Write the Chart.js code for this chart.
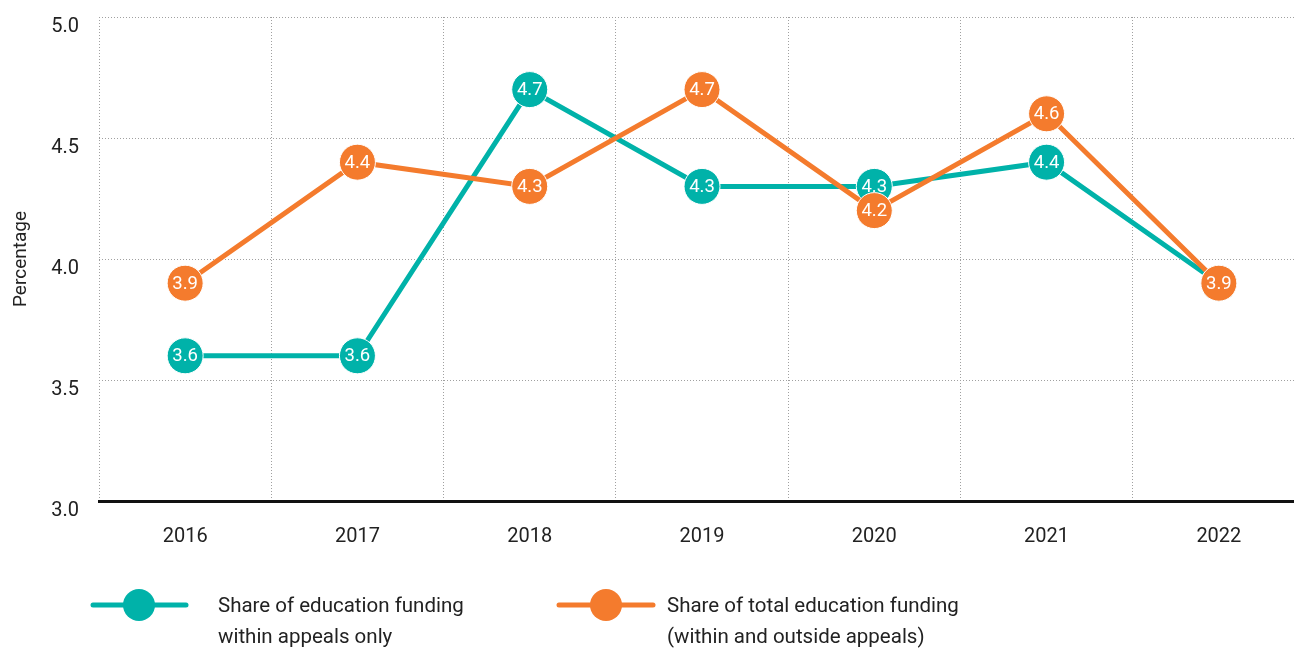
<!DOCTYPE html>
<html>
<head>
<meta charset="utf-8">
<script src="https://cdn.jsdelivr.net/npm/chart.js@4/dist/chart.umd.min.js"></script>
<style>
  html, body { margin: 0; padding: 0; background: #fff; overflow: hidden; }
  #wrap { width: 1305px; height: 650px; }
</style>
</head>
<body>
<div id="wrap"><canvas id="c" width="1305" height="650"></canvas></div>
<script>
const categories = ['2016', '2017', '2018', '2019', '2020', '2021', '2022'];
const withinAppeals = [3.6, 3.6, 4.7, 4.3, 4.3, 4.4, 3.9];
const totalFunding = [3.9, 4.4, 4.3, 4.7, 4.2, 4.6, 3.9];
const seriesNames = [
  ['Share of education funding', 'within appeals only'],
  ['Share of total education funding', '(within and outside appeals)']
];
const yTitle = 'Percentage';

const TEAL = '#00B2A9';
const ORANGE = '#F47B2D';
const FONT = 'Roboto, "DejaVu Sans", sans-serif';

const pointLabels = {
  id: 'pointLabels',
  afterDatasetDraw(chart, args) {
    const ctx = chart.ctx;
    const meta = args.meta;
    const ds = chart.data.datasets[args.index];
    ctx.save();
    ctx.fillStyle = '#ffffff';
    ctx.font = '18.5px ' + FONT;
    ctx.textAlign = 'center';
    ctx.textBaseline = 'middle';
    meta.data.forEach((pt, i) => {
      ctx.fillText(ds.data[i].toFixed(1), pt.x, pt.y + 1);
    });
    ctx.restore();
  }
};

const customLegend = {
  id: 'customLegend',
  afterDraw(chart) {
    const ctx = chart.ctx;
    const items = [
      { color: TEAL, x1: 93, x2: 186, cx: 139, tx: 218, lines: seriesNames[0] },
      { color: ORANGE, x1: 559, x2: 653, cx: 606, tx: 667, lines: seriesNames[1] }
    ];
    const y = 605;
    ctx.save();
    items.forEach(it => {
      ctx.strokeStyle = it.color;
      ctx.lineWidth = 5;
      ctx.lineCap = 'round';
      ctx.beginPath();
      ctx.moveTo(it.x1, y);
      ctx.lineTo(it.x2, y);
      ctx.stroke();
      ctx.fillStyle = it.color;
      ctx.beginPath();
      ctx.arc(it.cx, y, 16, 0, Math.PI * 2);
      ctx.fill();
      ctx.fillStyle = '#222';
      ctx.font = '20.5px ' + FONT;
      ctx.textAlign = 'left';
      ctx.textBaseline = 'middle';
      it.lines.forEach((t, k) => ctx.fillText(t, it.tx, 607 + k * 31));
    });
    ctx.restore();
  }
};

new Chart(document.getElementById('c'), {
  type: 'line',
  data: {
    labels: categories,
    datasets: [
      {
        label: seriesNames[0].join(' '),
        data: withinAppeals,
        borderColor: TEAL,
        backgroundColor: TEAL,
        borderWidth: 5,
        pointRadius: 18,
        pointHoverRadius: 18,
        pointBackgroundColor: TEAL,
        pointBorderColor: '#ffffff',
        pointBorderWidth: 1,
        tension: 0,
        clip: false,
        order: 1
      },
      {
        label: seriesNames[1].join(' '),
        data: totalFunding,
        borderColor: ORANGE,
        backgroundColor: ORANGE,
        borderWidth: 5,
        pointRadius: 18,
        pointHoverRadius: 18,
        pointBackgroundColor: ORANGE,
        pointBorderColor: '#ffffff',
        pointBorderWidth: 1,
        tension: 0,
        clip: false,
        order: 0
      }
    ]
  },
  options: {
    responsive: false,
    animation: false,
    events: [],
    layout: { autoPadding: false, padding: { top: 17, left: 0, right: 0, bottom: 0 } },
    plugins: {
      legend: { display: false },
      tooltip: { enabled: false }
    },
    scales: {
      x: {
        type: 'category',
        offset: true,
        afterFit(scale) { scale.height = 149; scale.paddingLeft = 0; scale.paddingRight = 0; },
        grid: {
          offset: true,
          drawTicks: false,
          color: '#a0a0a0',
          lineWidth: 1
        },
        border: { display: true, color: '#111', width: 3, dash: [1, 2] },
        ticks: {
          padding: 24,
          color: '#222',
          font: { family: FONT, size: 20 }
        }
      },
      y: {
        min: 3.0,
        max: 5.0,
        afterFit(scale) { scale.width = 99; scale.paddingTop = 0; scale.paddingBottom = 0; },
        grid: {
          drawTicks: false,
          color: '#a0a0a0',
          lineWidth: 1
        },
        border: { display: false, dash: [1, 2] },
        ticks: {
          stepSize: 0.5,
          padding: 20,
          labelOffset: 10,
          color: '#222',
          font: { family: FONT, size: 20 },
          callback: v => Number(v).toFixed(1)
        },
        title: {
          display: true,
          text: yTitle,
          color: '#222',
          padding: { top: 10, bottom: 0 },
          font: { family: FONT, size: 19 }
        }
      }
    }
  },
  plugins: [pointLabels, customLegend]
});
</script>
</body>
</html>
